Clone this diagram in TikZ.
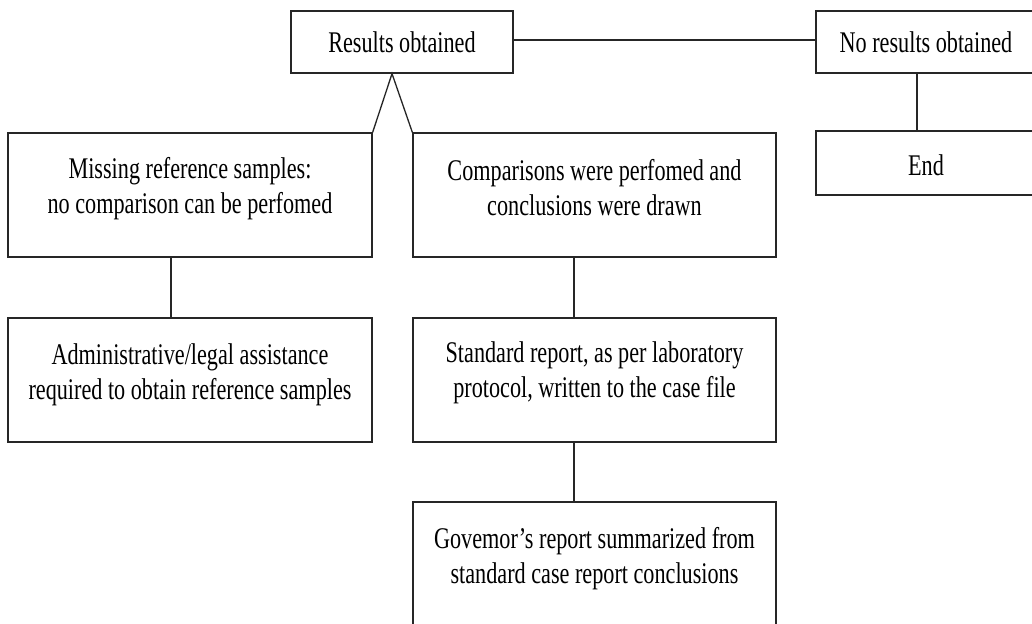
\documentclass[tikz,border=0pt]{standalone}
\usepackage{fontspec}
\setmainfont{Liberation Serif}[FakeStretch=0.74]
\newcommand\bxtext[4]{\parbox[c][#1][t]{#2}{\centering\fontsize{30pt}{35pt}\selectfont\rule{0pt}{#3}#4\par}}
\begin{document}
\begin{tikzpicture}[x=1pt,y=1pt,
  flowbox/.style={draw=black!85, line width=1.3pt, rectangle, inner sep=0pt, text=black},
  link/.style={draw=black!85, line width=1.3pt}]
\clip (0,0) rectangle (1032,-623);
\fill[white] (0,0) rectangle (1032,-623);

\node[flowbox] (res) at (402,-42) {\bxtext{62pt}{222pt}{42pt}{Results obtained}};
\node[flowbox] (nores) at (926,-42) {\bxtext{62pt}{220pt}{42pt}{No results obtained}};
\node[flowbox] (end) at (926,-163) {\bxtext{64pt}{220pt}{44pt}{End}};

\node[flowbox] (miss) at (190,-195) {\bxtext{124pt}{364pt}{45pt}{Missing reference samples:\\no comparison can be perfomed}};
\node[flowbox] (comp) at (594.5,-195) {\bxtext{124pt}{363pt}{47pt}{Comparisons were perfomed and\\conclusions were drawn}};

\node[flowbox] (admin) at (190,-380) {\bxtext{124pt}{364pt}{46pt}{Administrative/legal assistance\\required to obtain reference samples}};
\node[flowbox] (std) at (594.5,-380) {\bxtext{124pt}{363pt}{44pt}{Standard report, as per laboratory\\protocol, written to the case file}};
\node[flowbox] (gov) at (594.5,-564) {\bxtext{124pt}{363pt}{46pt}{Govemor’s report summarized from\\standard case report conclusions}};

\coordinate (apex) at ([xshift=-10pt]res.south);
\draw[link] ([yshift=2pt]res.east) -- ([yshift=2pt]nores.west);
\draw[link] ([xshift=-9pt]nores.south) -- ([xshift=-9pt]end.north);
\draw[link] (miss.north east) -- (apex) -- (comp.north west);
\draw[link] ([xshift=-19pt]miss.south) -- ([xshift=-19pt]admin.north);
\draw[link] ([xshift=-20.5pt]comp.south) -- ([xshift=-20.5pt]std.north);
\draw[link] ([xshift=-20.5pt]std.south) -- ([xshift=-20.5pt]gov.north);
\end{tikzpicture}
\end{document}
